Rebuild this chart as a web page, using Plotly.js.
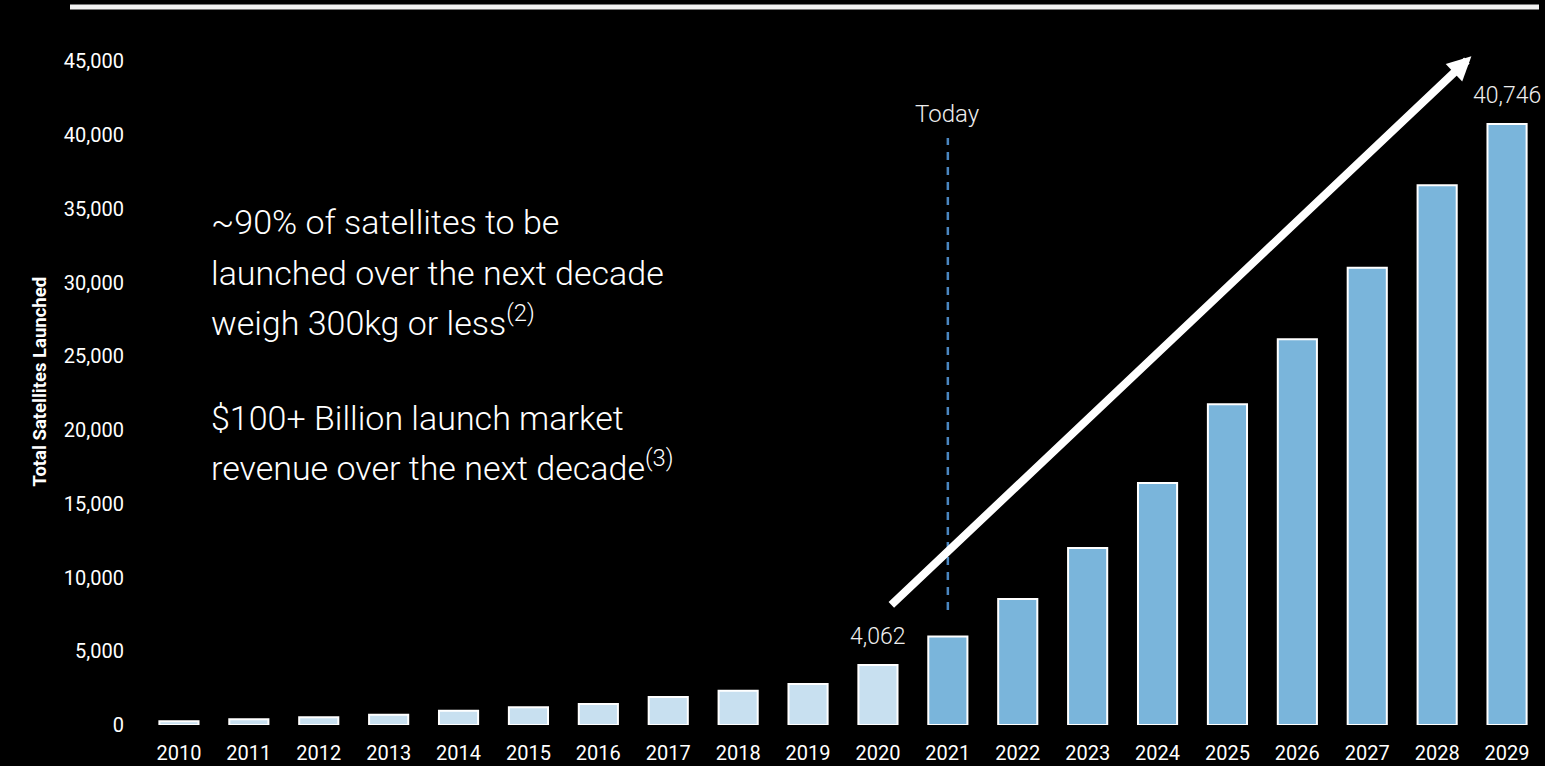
<!DOCTYPE html>
<html>
<head>
<meta charset="utf-8">
<script src="https://cdn.plot.ly/plotly-3.0.1.min.js"></script>
<style>
  html, body { margin: 0; padding: 0; background: #000; }
  #chart { width: 1545px; height: 766px; }
</style>
</head>
<body>
<div id="chart"></div>
<script>
// ---- data ----
const years = [2010, 2011, 2012, 2013, 2014, 2015, 2016, 2017, 2018, 2019,
               2020, 2021, 2022, 2023, 2024, 2025, 2026, 2027, 2028, 2029];
const satellites = [250, 390, 520, 700, 970, 1200, 1420, 1900, 2320, 2780,
                    4062, 6000, 8540, 12000, 16400, 21750, 26150, 31000, 36600, 40746];
const historicalEnd = 2020;           // bars up to this year are "historical"
const todayYear = 2021;
const labelledYears = [2020, 2029];
const yTicks = [0, 5000, 10000, 15000, 20000, 25000, 30000, 35000, 40000, 45000];
const yTitle = 'Total Satellites Launched';
const note1 = ['~90% of satellites to be', 'launched over the next decade', 'weigh 300kg or less<sup>(2)</sup>'];
const note2 = ['$100+ Billion launch market', 'revenue over the next decade<sup>(3)</sup>'];

// ---- styles ----
const lightBlue = '#c8e0f0';
const darkBlue = '#7ab5db';
const colors = years.map(y => y <= historicalEnd ? lightBlue : darkBlue);
const narrow = 'Liberation Sans Narrow, Roboto, sans-serif';

const trace = {
  type: 'bar',
  x: years,
  y: satellites,
  width: 0.56,
  marker: { color: colors, line: { color: '#ffffff', width: 2 } },
  hoverinfo: 'x+y'
};

const fmt = v => v.toLocaleString('en-US');

const annotations = [];
labelledYears.forEach(yr => {
  const v = satellites[years.indexOf(yr)];
  annotations.push({
    x: yr, y: v, xref: 'x', yref: 'y', text: fmt(v), showarrow: false,
    yanchor: 'bottom', yshift: 13,
    font: { family: 'Roboto', size: 23, color: '#eeeeee', weight: 300 }
  });
});
// Today label
annotations.push({
  x: todayYear, y: 41450, xref: 'x', yref: 'y', text: 'Today', showarrow: false,
  yanchor: 'middle',
  font: { family: 'Roboto', size: 24, color: '#eeeeee', weight: 300 }
});
// growth arrow
annotations.push({
  x: 2028.49, y: 45340, ax: 2020.17, ay: 8050,
  xref: 'x', yref: 'y', axref: 'x', ayref: 'y',
  text: '', showarrow: true, arrowhead: 2, arrowsize: 0.6, arrowwidth: 8,
  arrowcolor: '#ffffff'
});
// notes
const noteFont = { family: 'Roboto', size: 34, color: '#ffffff', weight: 300 };
const noteBaselines1 = [235, 285, 336];
const noteBaselines2 = [430, 480];
const toPaperY = px => (725.5 - px) / 708;
const noteX = (209 - 144) / 1398;
note1.forEach((t, i) => annotations.push({
  x: noteX, y: toPaperY(noteBaselines1[i]), xref: 'paper', yref: 'paper',
  xanchor: 'left', yanchor: 'bottom', yshift: -10, text: t, showarrow: false, font: noteFont
}));
note2.forEach((t, i) => annotations.push({
  x: noteX, y: toPaperY(noteBaselines2[i]), xref: 'paper', yref: 'paper',
  xanchor: 'left', yanchor: 'bottom', yshift: -10, text: t, showarrow: false, font: noteFont
}));
// y title
annotations.push({
  x: (26 - 144) / 1398, y: toPaperY(382), xref: 'paper', yref: 'paper',
  text: '<b>' + yTitle + '</b>', showarrow: false, textangle: -90,
  font: { family: narrow, size: 18.5, color: '#ffffff' }
});

const shapes = [
  // top rule
  { type: 'line', xref: 'paper', yref: 'paper',
    x0: (70 - 144) / 1398, x1: (1539 - 144) / 1398, y0: toPaperY(7.5), y1: toPaperY(7.5),
    line: { color: '#f2f2f2', width: 5 } },
  // Today dashed line
  { type: 'line', xref: 'x', yref: 'y', x0: todayYear, x1: todayYear, y0: 7800, y1: 39800,
    line: { color: '#4a86c0', width: 2.5, dash: '8px,7px' } }
];

const layout = {
  width: 1545, height: 766,
  paper_bgcolor: '#000000', plot_bgcolor: '#000000',
  margin: { l: 144, r: 3, t: 17, b: 41 },
  showlegend: false,
  xaxis: {
    range: [2009.5, 2029.5], tickvals: years, ticktext: years.map(String),
    showgrid: false, zeroline: false, showline: false, ticks: '',
    ticklabelstandoff: 14,
    tickfont: { family: narrow, size: 20, color: '#ffffff' }
  },
  yaxis: {
    range: [0, 48000], tickvals: yTicks, ticktext: yTicks.map(fmt),
    showgrid: false, zeroline: false, showline: false, ticks: '',
    ticklabelstandoff: 19,
    tickfont: { family: narrow, size: 20, color: '#ffffff' }
  },
  annotations: annotations,
  shapes: shapes
};

Plotly.newPlot('chart', [trace], layout, { displayModeBar: false, staticPlot: true });
</script>
</body>
</html>
